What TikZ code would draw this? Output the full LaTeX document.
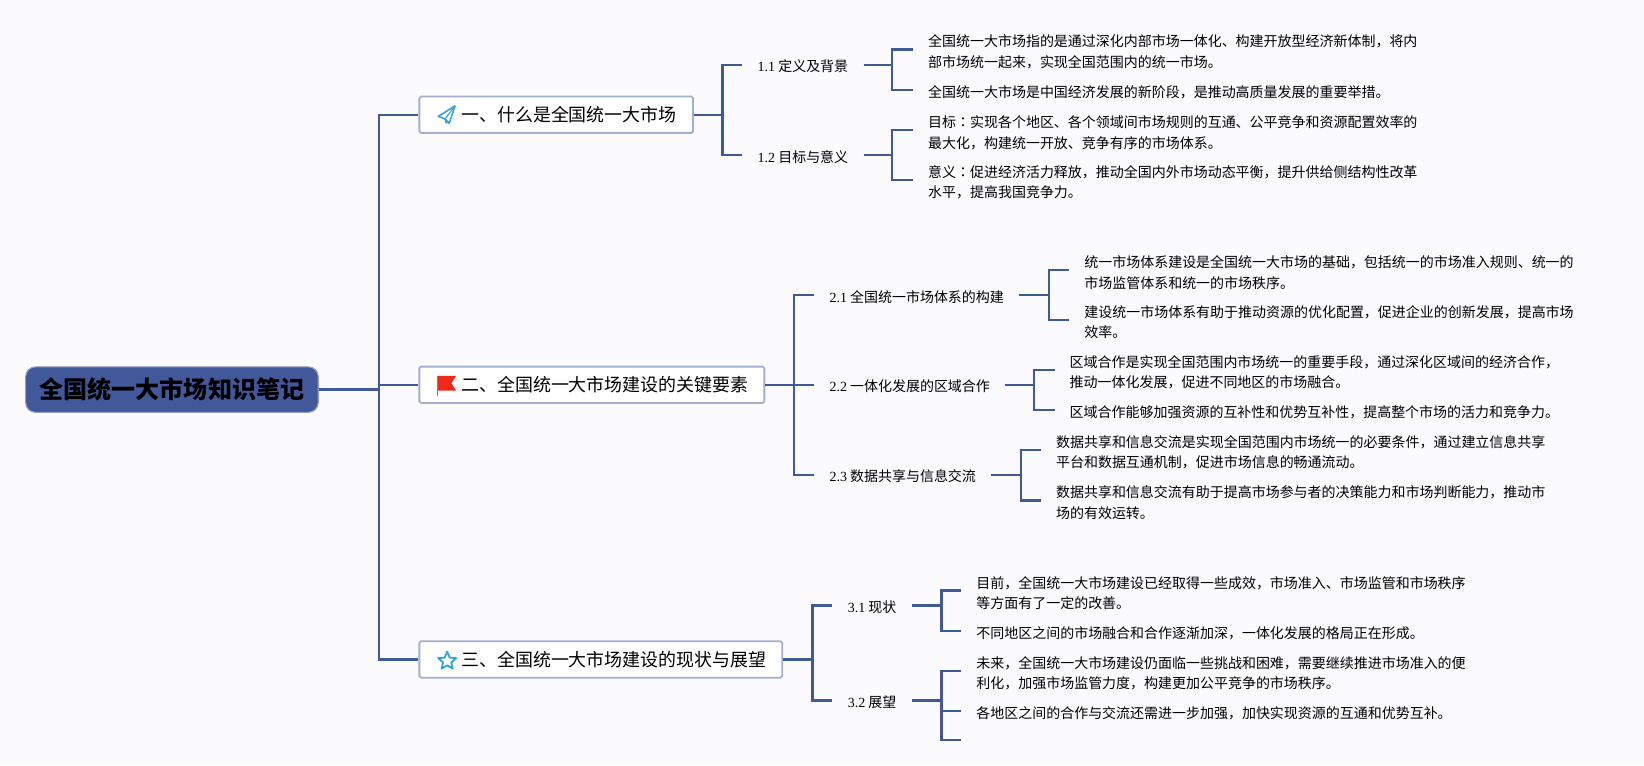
\documentclass[tikz,border=0pt]{standalone}
\usepackage{fontspec}
\setmainfont{Noto Sans CJK SC}
\newfontfamily\latfont{Liberation Serif}
\newfontfamily\tcfont{Noto Sans CJK TC}
\usetikzlibrary{shapes.geometric}
\definecolor{linecol}{HTML}{3F5A98}
\definecolor{rootfill}{HTML}{41599B}
\definecolor{rootedge}{HTML}{8C9CC8}
\definecolor{boxedge}{HTML}{A3AFD0}
\definecolor{bgcol}{HTML}{FBFBFD}
\definecolor{iconblue}{HTML}{2FA3DC}
\definecolor{flagred}{HTML}{F2291A}
\tikzset{
 x=0.75pt,y=-0.75pt,
 conn/.style={draw=linecol,line width=1.6pt,line join=miter},
 rootbox/.style={draw=rootedge,fill=rootfill,line width=0.8pt,rounded corners=7pt,minimum width=209.25pt,minimum height=32.5pt,inner sep=0pt,font=\fontsize{17.2}{20}\selectfont\bfseries,text=black},
 branchbox/.style={draw=boxedge,fill=white,line width=1.3pt,rounded corners=1.2pt,minimum height=26pt,inner xsep=0pt,inner ysep=0pt,align=left,font=\fontsize{12.83}{16}\selectfont,text=black},
 sublabel/.style={anchor=west,inner xsep=10.8pt,inner ysep=0pt,font=\fontsize{10}{14}\selectfont,text=black},
 leaf/.style={anchor=west,inner xsep=10.5pt,inner ysep=0pt,align=left,font=\fontsize{10}{14.6}\selectfont,text=black},
}
\newcommand{\nm}[1]{{\latfont #1}}
\newcommand{\cln}{{\tcfont ：}}
\begin{document}
\begin{tikzpicture}
\useasboundingbox (0,0) rectangle (1568,730);
\fill[bgcol] (0,0) rectangle (1568,730);
% buses
\coordinate (trunk) at (361.5,0);
\coordinate (busa) at (689,0);
\coordinate (busb) at (757,0);
\coordinate (busc) at (775,0);
\coordinate (bus11) at (851,0);
\coordinate (bus12) at (851,0);
\coordinate (bus21) at (1000.5,0);
\coordinate (bus22) at (986.5,0);
\coordinate (bus23) at (973.5,0);
\coordinate (bus31) at (898,0);
\coordinate (bus32) at (898,0);
\coordinate (empty) at (916.6,705.8);
% root and branches
\node[rootbox] (root) at (164,371.6) {\raisebox{-0.8pt}{全国统一大市场知识笔记}};
\node[branchbox,text width=195.75pt] (b1) at (530.5,109.4) {\hspace*{30pt}\raisebox{-0.8pt}{一、什么是全国统一大市场}};
\node[branchbox,text width=246.75pt] (b2) at (564.5,367) {\hspace*{30pt}\raisebox{-0.8pt}{二、全国统一大市场建设的关键要素}};
\node[branchbox,text width=259.5pt] (b3) at (573,629) {\hspace*{30pt}\raisebox{-0.8pt}{三、全国统一大市场建设的现状与展望}};
% second level
\node[sublabel] (s11) at (708,63.5) {\nm{1.1} 定义及背景};
\node[sublabel] (s12) at (708,149.5) {\nm{1.2} 目标与意义};
\node[sublabel] (s21) at (776.5,283) {\nm{2.1} 全国统一市场体系的构建};
\node[sublabel] (s22) at (776.5,368.5) {\nm{2.2} 一体化发展的区域合作};
\node[sublabel] (s23) at (776.5,454.5) {\nm{2.3} 数据共享与信息交流};
\node[sublabel] (s31) at (794,579) {\nm{3.1} 现状};
\node[sublabel] (s32) at (794,669.5) {\nm{3.2} 展望};
% leaves
\node[leaf] (l111) at (871,49.5) {全国统一大市场指的是通过深化内部市场一体化、构建开放型经济新体制，将内\\部市场统一起来，实现全国范围内的统一市场。};
\node[leaf] (l112) at (871,88) {全国统一大市场是中国经济发展的新阶段，是推动高质量发展的重要举措。};
\node[leaf] (l121) at (871,126.5) {目标\cln 实现各个地区、各个领域间市场规则的互通、公平竞争和资源配置效率的\\最大化，构建统一开放、竞争有序的市场体系。};
\node[leaf] (l122) at (871,174) {意义\cln 促进经济活力释放，推动全国内外市场动态平衡，提升供给侧结构性改革\\水平，提高我国竞争力。};
\node[leaf] (l211) at (1020,260) {统一市场体系建设是全国统一大市场的基础，包括统一的市场准入规则、统一的\\市场监管体系和统一的市场秩序。};
\node[leaf] (l212) at (1020,307.5) {建设统一市场体系有助于推动资源的优化配置，促进企业的创新发展，提高市场\\效率。};
\node[leaf] (l221) at (1006,355) {区域合作是实现全国范围内市场统一的重要手段，通过深化区域间的经济合作，\\推动一体化发展，促进不同地区的市场融合。};
\node[leaf] (l222) at (1006,393.5) {区域合作能够加强资源的互补性和优势互补性，提高整个市场的活力和竞争力。};
\node[leaf] (l231) at (993,431.5) {数据共享和信息交流是实现全国范围内市场统一的必要条件，通过建立信息共享\\平台和数据互通机制，促进市场信息的畅通流动。};
\node[leaf] (l232) at (993,479.5) {数据共享和信息交流有助于提高市场参与者的决策能力和市场判断能力，推动市\\场的有效运转。};
\node[leaf] (l311) at (917,565.5) {目前，全国统一大市场建设已经取得一些成效，市场准入、市场监管和市场秩序\\等方面有了一定的改善。};
\node[leaf] (l312) at (917,604) {不同地区之间的市场融合和合作逐渐加深，一体化发展的格局正在形成。};
\node[leaf] (l321) at (917,642) {未来，全国统一大市场建设仍面临一些挑战和困难，需要继续推进市场准入的便\\利化，加强市场监管力度，构建更加公平竞争的市场秩序。};
\node[leaf] (l322) at (917,680) {各地区之间的合作与交流还需进一步加强，加快实现资源的互通和优势互补。};
% connectors
\foreach \c in {b1,b2,b3}
  \draw[conn] (root.east) -- (root.east -| trunk) |- (\c.west);
\foreach \c in {s11,s12}
  \draw[conn] (b1.east) -- (b1.east -| busa) |- ([yshift=1.1pt]\c.west);
\foreach \c in {s21,s22,s23}
  \draw[conn] (b2.east) -- (b2.east -| busb) |- ([yshift=1.1pt]\c.west);
\foreach \c in {s31,s32}
  \draw[conn] (b3.east) -- (b3.east -| busc) |- ([yshift=1.1pt]\c.west);
\foreach \c in {l111,l112}
  \draw[conn] ([yshift=1.1pt]s11.east) -- ([yshift=1.1pt]s11.east -| bus11) |- ([yshift=1.65pt]\c.west);
\foreach \c in {l121,l122}
  \draw[conn] ([yshift=1.1pt]s12.east) -- ([yshift=1.1pt]s12.east -| bus12) |- ([yshift=1.65pt]\c.west);
\foreach \c in {l211,l212}
  \draw[conn] ([yshift=1.1pt]s21.east) -- ([yshift=1.1pt]s21.east -| bus21) |- ([yshift=1.65pt]\c.west);
\foreach \c in {l221,l222}
  \draw[conn] ([yshift=1.1pt]s22.east) -- ([yshift=1.1pt]s22.east -| bus22) |- ([yshift=1.65pt]\c.west);
\foreach \c in {l231,l232}
  \draw[conn] ([yshift=1.1pt]s23.east) -- ([yshift=1.1pt]s23.east -| bus23) |- ([yshift=1.65pt]\c.west);
\foreach \c in {l311,l312}
  \draw[conn] ([yshift=1.1pt]s31.east) -- ([yshift=1.1pt]s31.east -| bus31) |- ([yshift=1.65pt]\c.west);
\foreach \c in {l321,l322}
  \draw[conn] ([yshift=1.1pt]s32.east) -- ([yshift=1.1pt]s32.east -| bus32) |- ([yshift=1.65pt]\c.west);
\draw[conn] ([yshift=1.1pt]s32.east) -- ([yshift=1.1pt]s32.east -| bus32) |- (empty);
% icons
\begin{scope}[shift={(418,101)}]
  \draw[iconblue,line width=1.1pt,line join=round] (16,0) -- (0,10) -- (6.5,12.5) -- (10.5,16.5) -- cycle;
  \draw[iconblue,line width=0.8pt,line join=round] (16,0) -- (6.5,12.5) -- (7.5,16.5) -- (9.5,14.5);
\end{scope}
\fill[flagred] (417,358.5) -- (435,358.5) -- (430.5,365.5) -- (435,372.5) -- (417,372.5) -- cycle;
\draw[flagred!80,line width=0.9pt] (417.5,358.5) -- (417.5,378);
\node[star,star points=5,star point ratio=2.2,draw=iconblue,line width=1.3pt,line join=round,fill=white,minimum size=13.5pt,inner sep=0pt] (staricon) at (426.5,630.5) {};
\end{tikzpicture}
\end{document}
